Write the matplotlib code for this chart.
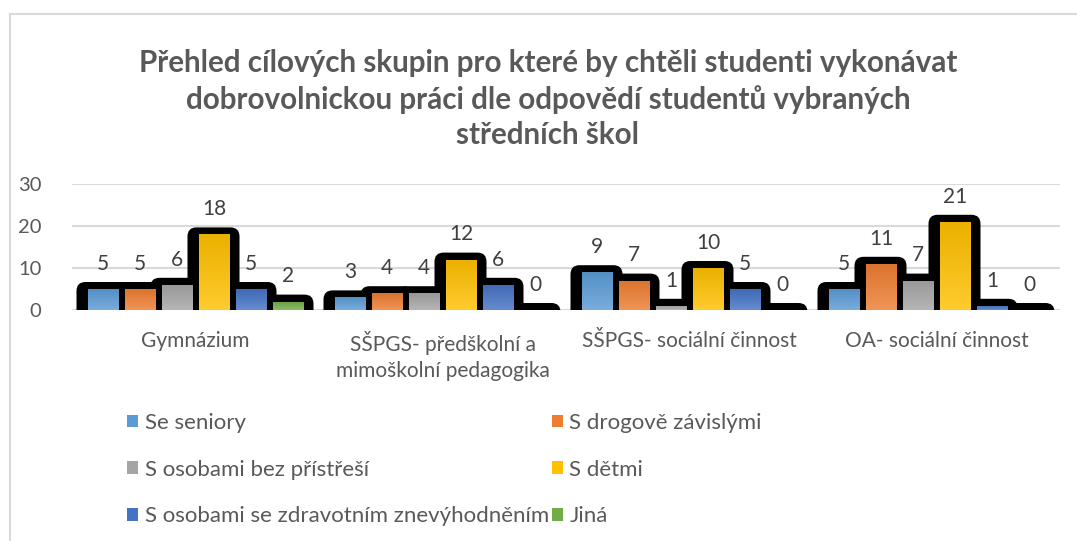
import numpy as np
import matplotlib as mpl
import matplotlib.pyplot as plt
from matplotlib.patches import FancyBboxPatch
from matplotlib.colors import to_rgb

mpl.rcParams['font.family'] = ['Lato', 'DejaVu Sans']

categories = ['Gymnázium', 'SŠPGS- předškolní a\nmimoškolní pedagogika',
              'SŠPGS- sociální činnost', 'OA- sociální činnost']
series = ['Se seniory', 'S drogově závislými', 'S osobami bez přístřeší',
          'S dětmi', 'S osobami se zdravotním znevýhodněním', 'Jiná']
se_seniory = [5, 3, 9, 5]
s_drogove = [5, 4, 7, 11]
s_bez_pristresi = [6, 4, 1, 7]
s_detmi = [18, 12, 10, 21]
s_zdrav = [5, 6, 5, 1]
jina = [2, 0, 0, 0]
values = [se_seniory, s_drogove, s_bez_pristresi, s_detmi, s_zdrav, jina]
colors = ['#5B9BD5', '#ED7D31', '#A5A5A5', '#FFC000', '#4472C4', '#70AD47']
title = ('Přehled cílových skupin pro které by chtěli studenti vykonávat\n'
         'dobrovolnickou práci dle odpovědí studentů vybraných\n'
         'středních škol')

W, H = 1077, 541
fig = plt.figure(figsize=(W / 100, H / 100), dpi=100)

# chart frame (only top and left edges visible)
fig.add_artist(plt.Line2D([10 / W, 10 / W], [0, 1 - 14 / H], color='#D9D9D9', lw=1.5))
fig.add_artist(plt.Line2D([10 / W, 1], [1 - 14 / H, 1 - 14 / H], color='#D9D9D9', lw=1.5))

ax = fig.add_axes([72 / W, (H - 310) / H, 988 / W, 126 / H])
ax.set_xlim(-0.5, 3.5)
ax.set_ylim(0, 30)

px_x = 4 / 988      # x data units per pixel
px_y = 30 / 126     # y data units per pixel
step = 37 * px_x
bw = 31 * px_x
x = np.arange(len(categories))


def shade(c, f):
    r = np.array(to_rgb(c))
    if f > 0:
        return r + (1 - r) * f
    return r * (1 + f)


# shadows first, all behind the bars
for i, vals in enumerate(values):
    xs = x + (i - 2.5) * step
    for xc, v in zip(xs, vals):
        l = xc - bw / 2 - 11 * px_x
        r = xc + bw / 2 + 10 * px_x
        b = -4
        t = v + 7 * px_y
        p = FancyBboxPatch((l, b), r - l, t - b,
                           boxstyle='round,pad=0,rounding_size=%f' % (9 * px_x),
                           mutation_aspect=px_y / px_x,
                           fc='black', ec='none', zorder=2)
        ax.add_patch(p)

handles = []
for i, (name, vals, c) in enumerate(zip(series, values, colors)):
    xs = x + (i - 2.5) * step
    bars = ax.bar(xs, vals, bw, color=c, zorder=3, label=name, linewidth=0)
    handles.append(bars)
    for rect, v in zip(bars, vals):
        if v > 0:
            grad = np.linspace(0, 1, 64)[:, None]
            top = shade(c, 0.18)
            bot = shade(c, -0.08)
            img = top[None, None, :] * (1 - grad[..., None]) + bot[None, None, :] * grad[..., None]
            im = ax.imshow(img, extent=(rect.get_x(), rect.get_x() + rect.get_width(), v, 0),
                           aspect='auto', zorder=3.5, interpolation='bilinear')
            im.set_clip_path(rect)
        ax.annotate(str(v), (rect.get_x() + rect.get_width() / 2, v),
                    xytext=(0, 11), textcoords='offset points',
                    ha='center', va='bottom', fontsize=15, color='#404040')

ax.set_xlim(-0.5, 3.5)
ax.set_ylim(0, 30)
ax.set_yticks([0, 10, 20, 30])
ax.yaxis.grid(True, color='#D9D9D9', lw=1.5)
ax.set_axisbelow(True)
for s in ax.spines.values():
    s.set_visible(False)
ax.axhline(0, color='#D9D9D9', lw=1.5, zorder=1)
ax.set_xticks(x)
ax.set_xticklabels(categories, fontsize=15, color='#595959', linespacing=1.4)
ax.tick_params(axis='x', length=0, pad=15)
ax.tick_params(axis='y', length=0, labelsize=14.5, labelcolor='#595959', pad=22)

fig.text(548 / W, 1 - 49 / H, title, ha='center', va='top', fontsize=21.3,
         fontweight='bold', color='#595959', linespacing=1.33)

order = [0, 2, 4, 1, 3, 5]
leg = fig.legend([handles[k] for k in order], [series[k] for k in order],
                 ncol=2, loc='upper left', bbox_to_anchor=(127 / W, 1 - 413 / H),
                 frameon=False, fontsize=16, handlelength=0.5, handleheight=0.5,
                 handletextpad=0.3, columnspacing=0.12, labelspacing=1.2,
                 borderaxespad=0, borderpad=0)
for t in leg.get_texts():
    t.set_color('#595959')

fig.savefig('out.png', dpi=100)
